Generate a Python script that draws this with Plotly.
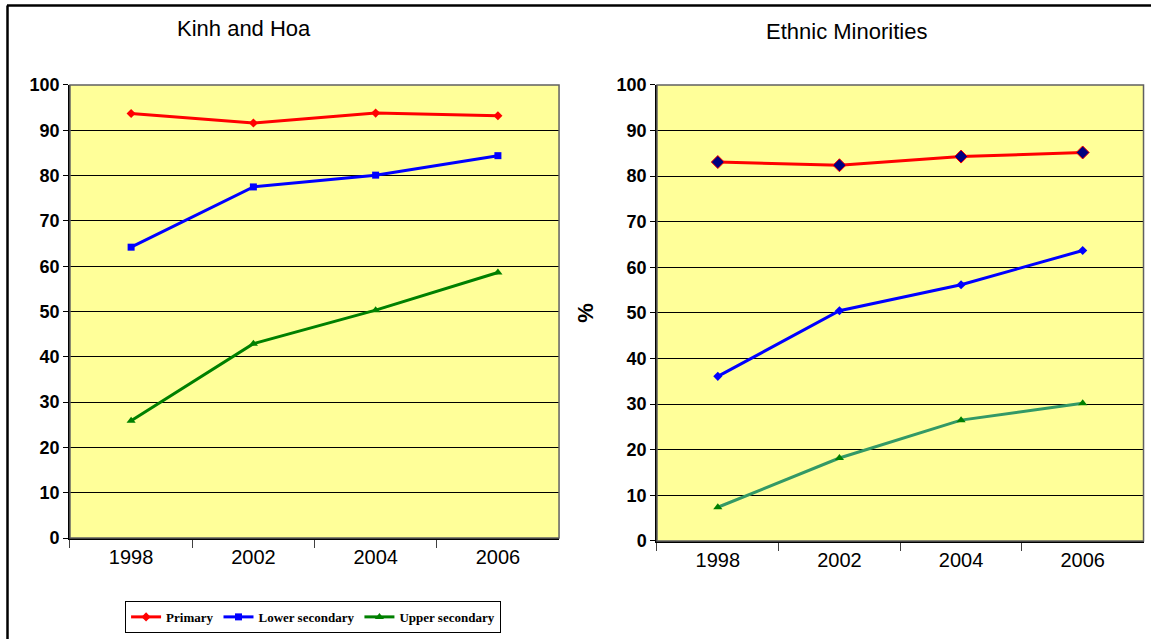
import plotly.graph_objects as go

# 年（カテゴリ）
years = ["1998", "2002", "2004", "2006"]

# Kinh and Hoa
kinh_primary = [93.7, 91.6, 93.8, 93.2]
kinh_lower = [64.2, 77.5, 80.1, 84.4]
kinh_upper = [25.9, 42.9, 50.3, 58.6]

# Ethnic Minorities
eth_primary = [83.1, 82.4, 84.3, 85.2]
eth_lower = [36.1, 50.5, 56.2, 63.7]
eth_upper = [7.4, 18.2, 26.5, 30.2]

y_ticks = [0, 10, 20, 30, 40, 50, 60, 70, 80, 90, 100]

fig = go.Figure()

# 左のグラフ
fig.add_trace(go.Scatter(x=years, y=kinh_primary, name="Primary", mode="lines+markers",
                         line=dict(color="#FF0000", width=3),
                         marker=dict(symbol="diamond", size=7, color="#FF0000"),
                         xaxis="x", yaxis="y"))
fig.add_trace(go.Scatter(x=years, y=kinh_lower, name="Lower secondary", mode="lines+markers",
                         line=dict(color="#0000FF", width=3),
                         marker=dict(symbol="square", size=7, color="#0000FF"),
                         xaxis="x", yaxis="y"))
fig.add_trace(go.Scatter(x=years, y=kinh_upper, name="Upper secondary", mode="lines+markers",
                         line=dict(color="#008000", width=3),
                         marker=dict(symbol="triangle-up", size=8, color="#008000"),
                         xaxis="x", yaxis="y"))

# 右のグラフ
fig.add_trace(go.Scatter(x=years, y=eth_primary, name="Primary", mode="lines+markers",
                         line=dict(color="#FF0000", width=3),
                         marker=dict(symbol="diamond", size=10, color="#000080",
                                     line=dict(color="#FF0000", width=1)),
                         xaxis="x2", yaxis="y2", showlegend=False))
fig.add_trace(go.Scatter(x=years, y=eth_lower, name="Lower secondary", mode="lines+markers",
                         line=dict(color="#0000FF", width=3),
                         marker=dict(symbol="diamond", size=7, color="#0000FF"),
                         xaxis="x2", yaxis="y2", showlegend=False))
fig.add_trace(go.Scatter(x=years, y=eth_upper, name="Upper secondary", mode="lines+markers",
                         line=dict(color="#339966", width=3),
                         marker=dict(symbol="triangle-up", size=8, color="#008000"),
                         xaxis="x2", yaxis="y2", showlegend=False))

ytick_font = dict(family="Liberation Sans Narrow, Arial Narrow, Liberation Sans", size=18,
                  color="black", weight="bold")
xtick_font = dict(family="Liberation Sans, Arial", size=20, color="black")

xcommon = dict(type="category", showline=True, linecolor="black", linewidth=1.5,
               ticks="outside", tickson="boundaries", ticklen=8, tickcolor="#404040",
               tickfont=xtick_font, showgrid=False, range=[-0.5, 3.5], fixedrange=True,
               automargin=False)
ycommon = dict(range=[0, 100], tickvals=y_ticks, showline=True, linecolor="black", linewidth=1.5,
               ticks="outside", ticklen=5, tickcolor="black", showgrid=True,
               gridcolor="black", gridwidth=1, tickfont=ytick_font, zeroline=False,
               fixedrange=True, automargin=False)

fig.update_layout(
    width=1151, height=639,
    margin=dict(l=0, r=0, t=0, b=0, autoexpand=False),
    paper_bgcolor="white",
    plot_bgcolor="#FFFF99",
    font=dict(family="Liberation Sans, Arial", color="black"),
    xaxis=dict(domain=[0.0608, 0.4857], anchor="y", **xcommon),
    yaxis=dict(domain=[0.158, 0.867], anchor="x", **ycommon),
    xaxis2=dict(domain=[0.5708, 0.9935], anchor="y2", **xcommon),
    yaxis2=dict(domain=[0.1534, 0.867], anchor="x2",
                title=dict(text="%", font=dict(size=22, family="Liberation Sans, Arial", weight="bold"),
                           standoff=17),
                **ycommon),
    legend=dict(orientation="h", x=0.272, xanchor="center", y=0.0095, yanchor="bottom",
                bordercolor="black", borderwidth=1, bgcolor="white",
                font=dict(family="Liberation Serif, Times New Roman", size=13, color="black",
                          weight="bold"),
                itemwidth=30, tracegroupgap=0),
    annotations=[
        dict(text="Kinh and Hoa", x=244 / 1151, y=1 - 29 / 639, xref="paper", yref="paper",
             xanchor="center", yanchor="middle", showarrow=False, font=dict(size=22)),
        dict(text="Ethnic Minorities", x=846 / 1151, y=1 - 31 / 639, xref="paper", yref="paper",
             xanchor="center", yanchor="middle", showarrow=False, font=dict(size=22)),
    ],
    shapes=[
        # 外枠（上と左）
        dict(type="line", xref="paper", yref="paper", x0=7 / 1151, x1=1, y0=1 - 5.5 / 639, y1=1 - 5.5 / 639,
             line=dict(color="black", width=2.5)),
        dict(type="line", xref="paper", yref="paper", x0=7.5 / 1151, x1=7.5 / 1151, y0=0, y1=1 - 5.5 / 639,
             line=dict(color="black", width=2.5)),
        # プロットエリアの枠線
        dict(type="rect", xref="x domain", yref="y domain", x0=0, x1=1, y0=0, y1=1,
             line=dict(color="#606060", width=1.5)),
        dict(type="rect", xref="x2 domain", yref="y2 domain", x0=0, x1=1, y0=0, y1=1,
             line=dict(color="#606060", width=1.5)),
    ],
)

fig.write_html("out.html", config={"displayModeBar": False},
               post_script="document.body.style.margin='0';")
